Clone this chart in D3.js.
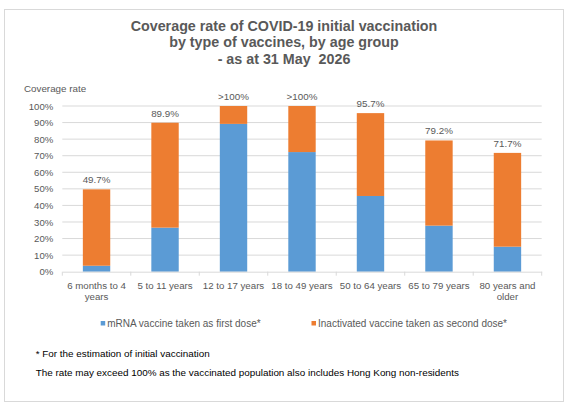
<!DOCTYPE html>
<html>
<head>
<meta charset="utf-8">
<script src="https://cdn.jsdelivr.net/npm/d3@7"></script>
<style>
  body { margin: 0; background: #fff; }
  text { font-family: "Liberation Sans", Arial, sans-serif; }
</style>
</head>
<body>
<div id="chart"></div>
<script>
// data (percent)
let ageGroups = ["6 months to 4 years", "5 to 11 years", "12 to 17 years", "18 to 49 years",
                 "50 to 64 years", "65 to 79 years", "80 years and older"];
let mrnaFirst = [3.6, 26.6, 89.2, 72.2, 45.7, 27.8, 15.1];
let inactivatedSecond = [46.1, 63.3, 10.8, 27.8, 50.0, 51.4, 56.6];
let totalLabels = ["49.7%", "89.9%", ">100%", ">100%", "95.7%", "79.2%", "71.7%"];
let yTicks = [0, 10, 20, 30, 40, 50, 60, 70, 80, 90, 100];
let seriesNames = ["mRNA vaccine taken as first dose*", "Inactivated vaccine taken as second dose*"];
let titleLines = ["Coverage rate of COVID-19 initial vaccination",
                  "by type of vaccines, by age group",
                  "- as at 31 May  2026"];
let footnotes = ["* For the estimation of initial vaccination",
                 "The rate may exceed 100% as the vaccinated population also includes Hong Kong non-residents"];

let w = 572, h = 408;
let blue = "#5b9bd5", orange = "#ed7d31";
let grey = "#595959", gridGrey = "#d9d9d9";

let svg = d3.select("#chart")
            .append("svg")
              .attr("width", w)
              .attr("height", h);

// outer frame
svg.append("rect")
   .attr("x", 4.5).attr("y", 9.5)
   .attr("width", 559).attr("height", 392)
   .attr("fill", "#fff")
   .attr("stroke", gridGrey);

// title
svg.append("g").selectAll("text")
   .data(titleLines)
   .join("text")
     .attr("x", 284)
     .attr("y", (d, i) => 30.5 + i * 16.5)
     .attr("text-anchor", "middle")
     .attr("font-size", "14.3px")
     .attr("font-weight", "bold")
     .attr("fill", grey)
     .style("white-space", "pre")
     .text(d => d);

// scales
let xScale = d3.scaleBand()
               .domain(ageGroups)
               .range([62.3, 541.7])
               .paddingInner(0.6)
               .paddingOuter(0.3);
let yScale = d3.scaleLinear()
               .domain([0, 100])
               .range([271.7, 106]);

// gridlines
svg.append("g").selectAll("line")
   .data(yTicks.slice(1))
   .join("line")
     .attr("x1", 62.3).attr("x2", 541.7)
     .attr("y1", d => yScale(d)).attr("y2", d => yScale(d))
     .attr("stroke", gridGrey);

// y axis labels
let yAxis = d3.axisLeft(yScale)
              .tickValues(yTicks)
              .tickFormat(d => d + "%")
              .tickSize(0)
              .tickPadding(9);
let yg = svg.append("g")
            .attr("transform", "translate(62.3,0)")
            .call(yAxis);
yg.select(".domain").remove();
yg.selectAll("text")
  .attr("font-family", null)
  .attr("font-size", "9.6px")
  .attr("fill", grey);

svg.append("text")
   .attr("x", 24)
   .attr("y", 91.5)
   .attr("font-size", "9.8px")
   .attr("fill", grey)
   .text("Coverage rate");

// stacked bars
let stackData = ageGroups.map((g, i) => ({group: g, mrna: mrnaFirst[i], inact: inactivatedSecond[i]}));
let stack = d3.stack().keys(["mrna", "inact"])(stackData);
let colors = [blue, orange];

svg.append("g").selectAll("g")
   .data(stack)
   .join("g")
     .attr("fill", (d, i) => colors[i])
   .selectAll("rect")
   .data(d => d)
   .join("rect")
     .attr("x", d => xScale(d.data.group))
     .attr("width", xScale.bandwidth())
     .attr("y", d => yScale(d[1]))
     .attr("height", d => yScale(d[0]) - yScale(d[1]));

// total labels
svg.append("g").selectAll("text")
   .data(stackData)
   .join("text")
     .attr("x", d => xScale(d.group) + xScale.bandwidth() / 2)
     .attr("y", d => yScale(d.mrna + d.inact) - 6)
     .attr("text-anchor", "middle")
     .attr("font-size", "9.8px")
     .attr("fill", grey)
     .text((d, i) => totalLabels[i]);

// x axis
let xAxis = d3.axisBottom(xScale).tickSize(0).tickPadding(10);
let xg = svg.append("g")
            .attr("transform", "translate(0," + yScale(0) + ")")
            .call(xAxis);
xg.select(".domain").attr("stroke", gridGrey);
xg.selectAll("text")
  .attr("font-family", null)
  .attr("font-size", "9.7px")
  .attr("fill", grey)
  .call(wrap, 66);

// category boundary ticks
let step = xScale.step();
let bounds = d3.range(ageGroups.length + 1).map(i => 62.3 + i * step);
xg.selectAll(".bound")
  .data(bounds)
  .join("line")
    .attr("class", "bound")
    .attr("x1", d => d).attr("x2", d => d)
    .attr("y1", 0).attr("y2", 4)
    .attr("stroke", gridGrey);

function wrap(texts, width) {
  texts.each(function() {
    let text = d3.select(this);
    let words = text.text().split(" ");
    let y = text.attr("y");
    let dy = 0.71;
    text.text(null);
    let line = [];
    let lineNo = 0;
    let tspan = text.append("tspan").attr("x", 0).attr("y", y).attr("dy", dy + "em");
    words.forEach(word => {
      line.push(word);
      tspan.text(line.join(" "));
      if (tspan.node().getComputedTextLength() > width && line.length > 1) {
        line.pop();
        tspan.text(line.join(" "));
        line = [word];
        lineNo++;
        tspan = text.append("tspan").attr("x", 0).attr("y", y)
                    .attr("dy", (dy + lineNo * 1.17) + "em").text(word);
      }
    });
  });
}

// legend
let legendX = [100.7, 311.5];
let lg = svg.append("g").selectAll("g")
            .data(seriesNames)
            .join("g")
              .attr("transform", (d, i) => "translate(" + legendX[i] + ",323.3)");
lg.append("rect")
  .attr("x", 0).attr("y", -2.3)
  .attr("width", 4.5).attr("height", 4.5)
  .attr("fill", (d, i) => colors[i]);
lg.append("text")
  .attr("x", 6.5)
  .attr("dy", "0.35em")
  .attr("font-size", "10px")
  .attr("fill", grey)
  .text(d => d);

// footnotes
svg.append("g").selectAll("text")
   .data(footnotes)
   .join("text")
     .attr("x", 35.7)
     .attr("y", (d, i) => 353.3 + i * 19.4)
     .attr("dy", "0.35em")
     .attr("font-size", "9.9px")
     .attr("fill", "#000")
     .text(d => d);
</script>
</body>
</html>
